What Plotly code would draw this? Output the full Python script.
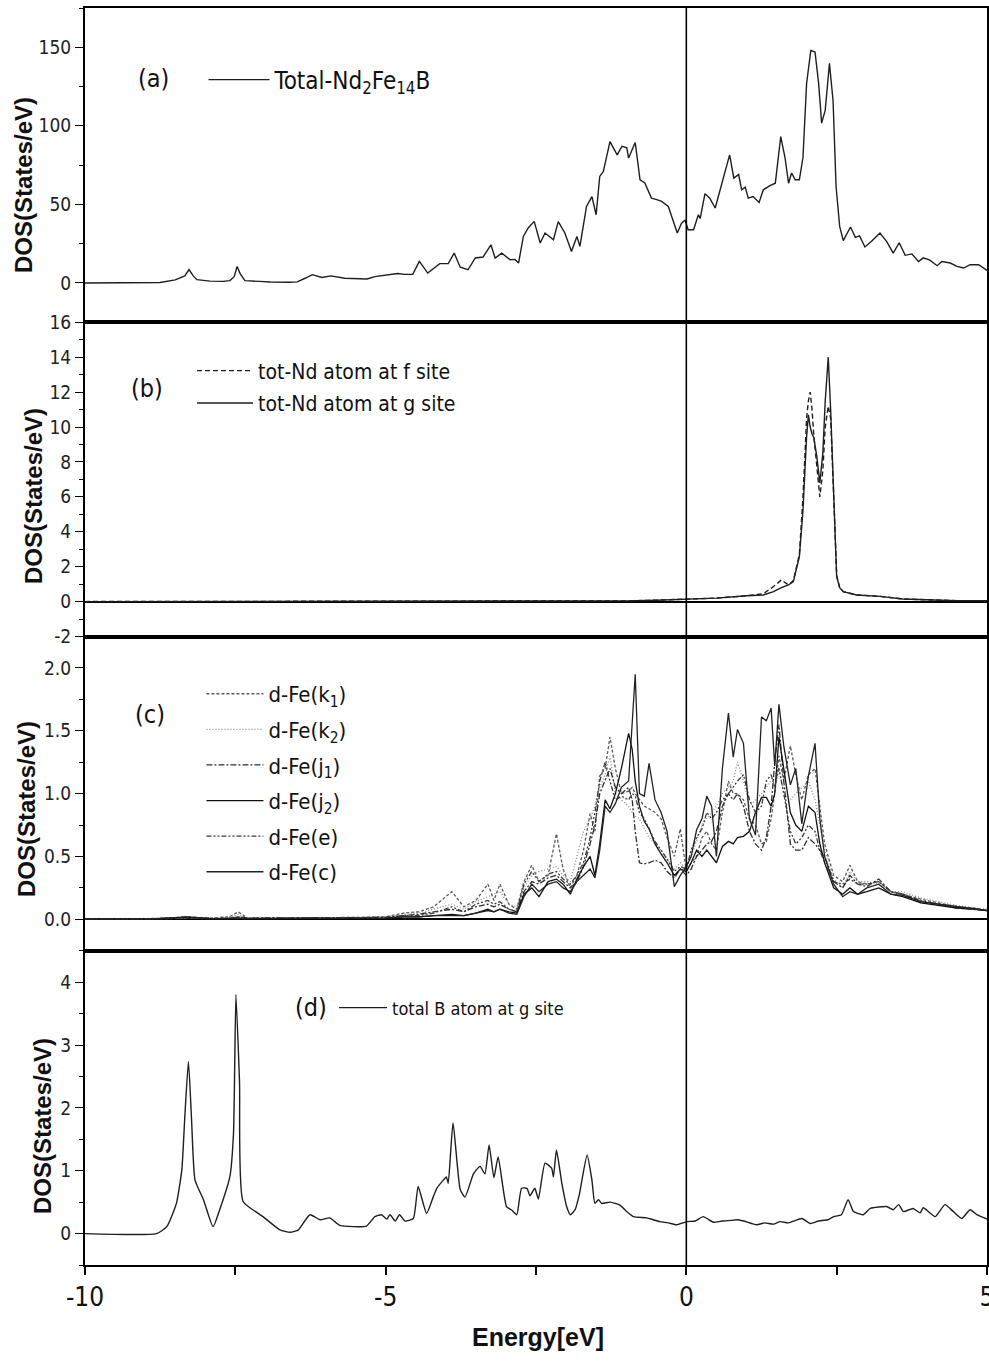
import plotly.graph_objects as go
from plotly.subplots import make_subplots

# ---------------- data ----------------
# (a) total DOS of Nd2Fe14B
energy_total = [-10.0, -8.9, -8.75, -8.5, -8.34, -8.27, -8.2, -8.14, -7.92, -7.7,
                -7.59, -7.52, -7.47, -7.42, -7.34, -7.1, -6.92, -6.6, -6.47, -6.34,
                -6.22, -6.06, -5.91, -5.68, -5.43, -5.31, -5.18, -4.96, -4.8, -4.68,
                -4.55, -4.44, -4.3, -4.1, -3.96, -3.86, -3.76, -3.63, -3.51, -3.38,
                -3.25, -3.18, -3.07, -2.93, -2.85, -2.79, -2.71, -2.63, -2.53, -2.43,
                -2.35, -2.21, -2.13, -2.02, -1.91, -1.82, -1.77, -1.66, -1.57, -1.5,
                -1.44, -1.38, -1.27, -1.15, -1.07, -0.99, -0.96, -0.85, -0.77, -0.69,
                -0.58, -0.49, -0.41, -0.3, -0.22, -0.15, -0.08, -0.02, 0.03, 0.12,
                0.2, 0.23, 0.31, 0.39, 0.48, 0.59, 0.72, 0.79, 0.87, 0.92,
                0.98, 1.03, 1.11, 1.21, 1.28, 1.39, 1.48, 1.57, 1.64, 1.7,
                1.75, 1.81, 1.88, 1.94, 2.0, 2.07, 2.14, 2.2, 2.25, 2.31,
                2.38, 2.44, 2.49, 2.55, 2.61, 2.73, 2.81, 2.88, 2.97, 3.08,
                3.22, 3.33, 3.44, 3.54, 3.64, 3.75, 3.86, 3.94, 4.05, 4.17,
                4.25, 4.39, 4.5, 4.61, 4.72, 4.86, 5.0]
dos_total = [0, 0, 0.3, 2, 4.5, 8.5, 4.5, 2.1, 1.2, 1,
             1.5, 4, 10.5, 6, 1.5, 1, 0.6, 0.5, 0.7, 3,
             5.3, 3.5, 4.5, 3, 2.8, 2.5, 4, 5, 6, 5.5,
             5.5, 13.7, 6.3, 12.3, 12.3, 19, 10, 8.4, 15.9, 16.5,
             24.3, 15.9, 19, 14.8, 15, 12.7, 29.6, 35, 39.2, 25.4,
             31.8, 27.5, 39, 31.8, 20.1, 29.6, 23.3, 48.7, 55, 43.4,
             67.8, 71, 90, 81.5, 87, 86, 79.5, 89.4, 65.7, 63.6,
             54, 53, 51.9, 48.7, 40.2, 31.8, 38, 40, 33.9, 33.9,
             43.4, 41, 56.8, 54, 47.7, 63.6, 81.5, 66.7, 69, 59.3,
             61, 54, 55, 51.2, 59.3, 62, 63.5, 93.2, 80, 63.5,
             70, 65.7, 65.7, 80, 127, 148, 147, 127, 101.7, 110,
             139.8, 116, 61.4, 36, 27, 35.6, 29, 30, 22.9, 26.5,
             31.8, 26.5, 19, 25.6, 17.6, 18.5, 13.7, 16, 14.5, 11,
             13.7, 12.7, 10.6, 9.5, 11.6, 11.6, 8]

# (b) Nd atoms at f and g sites
energy_nd = [-10, -2, -1, -0.5, 0, 0.5, 1.0, 1.28, 1.45, 1.58,
             1.70, 1.78, 1.88, 1.94, 2.00, 2.03, 2.06, 2.09, 2.12, 2.17,
             2.22, 2.27, 2.31, 2.36, 2.40, 2.44, 2.50, 2.55, 2.61, 2.83,
             3.22, 3.6, 4.0, 4.5, 5.0]
dos_nd_f = [0, 0.0, 0.04, 0.08, 0.14, 0.2, 0.33, 0.45, 0.86, 1.24,
            0.95, 1.2, 2.7, 6.0, 10.5, 11.5, 12.0, 11.0, 9.5, 7.8,
            6.0, 7.5, 10.0, 11.2, 10.5, 7.0, 1.5, 0.8, 0.57, 0.38,
            0.3, 0.15, 0.1, 0.05, 0.05]
dos_nd_g = [0, 0.0, 0.04, 0.08, 0.14, 0.2, 0.33, 0.38, 0.57, 0.8,
            0.95, 1.15, 2.58, 5.25, 9.45, 10.7, 10.0, 9.6, 9.4, 8.3,
            6.8, 8.5, 11.5, 14.0, 11.0, 7.2, 1.43, 0.8, 0.57, 0.38,
            0.3, 0.15, 0.1, 0.05, 0.05]

# (c) d-states of Fe at the six sites
energy_fe = [-10.0, -8.8, -8.3, -7.9, -7.6, -7.45, -7.3, -6.6, -6.0, -5.5, -5.0, -4.7, -4.45, -4.2,
             -3.9, -3.7, -3.5, -3.3, -3.2, -3.1, -2.95, -2.82, -2.7, -2.57,
             -2.45, -2.3, -2.16, -2.05, -1.93, -1.82, -1.71, -1.6, -1.52, -1.44,
             -1.35, -1.27, -1.18, -1.08, -0.96, -0.9, -0.85, -0.78, -0.7, -0.62,
             -0.52, -0.42, -0.32, -0.2, -0.1, 0.0, 0.08, 0.17, 0.26, 0.34,
             0.42, 0.5, 0.6, 0.7, 0.78, 0.85, 0.95, 1.05, 1.15, 1.25,
             1.33, 1.41, 1.47, 1.54, 1.62, 1.73, 1.82, 1.92, 2.03, 2.14,
             2.22, 2.3, 2.45, 2.6, 2.72, 2.85, 3.0, 3.2, 3.4, 3.6,
             3.9, 4.2, 4.5, 4.8, 5.0]
dos_fe_k1 = [0, 0.005, 0.01, 0.01, 0.02, 0.06, 0.01, 0.01, 0.01, 0.015, 0.02, 0.05, 0.06, 0.1,
             0.22, 0.1, 0.15, 0.28, 0.15, 0.28, 0.12, 0.08, 0.3, 0.43,
             0.3, 0.35, 0.68, 0.4, 0.25, 0.35, 0.55, 0.84, 0.7, 1.14,
             1.2, 1.45, 1.2, 1.0, 1.02, 1.05, 1.0, 0.95, 0.9, 0.88,
             0.85, 0.8, 0.65, 0.5, 0.72, 0.38, 0.45, 0.5, 0.65, 0.7,
             0.6, 0.55, 0.85, 1.1, 1.0, 1.0, 0.95, 0.8, 0.75, 0.6,
             0.62, 0.8, 1.0, 1.3, 1.1, 1.38, 1.15, 0.95, 1.15, 1.2,
             0.9, 0.6, 0.35, 0.3, 0.43, 0.3, 0.28, 0.3, 0.22, 0.2,
             0.16, 0.13, 0.1, 0.09, 0.07]
dos_fe_k2 = [0, 0.005, 0.01, 0.01, 0.015, 0.04, 0.01, 0.01, 0.01, 0.015, 0.02, 0.04, 0.05, 0.08,
             0.12, 0.08, 0.14, 0.18, 0.2, 0.22, 0.12, 0.1, 0.25, 0.35,
             0.38, 0.4, 0.42, 0.35, 0.3, 0.5, 0.7, 0.8, 0.9, 1.05,
             1.15, 1.3, 1.0, 0.95, 0.9, 0.85, 0.82, 0.8, 0.72, 0.65,
             0.6, 0.55, 0.48, 0.4, 0.45, 0.4, 0.5, 0.62, 0.75, 0.8,
             0.85, 0.9, 1.0, 1.05, 1.1, 1.25, 1.1, 0.9, 0.95, 1.0,
             1.05, 1.1, 1.15, 1.2, 1.0, 0.95, 1.0, 1.05, 1.1, 0.95,
             0.75, 0.55, 0.32, 0.25, 0.38, 0.3, 0.3, 0.28, 0.22, 0.22,
             0.17, 0.14, 0.11, 0.09, 0.08]
dos_fe_j1 = [0, 0.005, 0.02, 0.005, 0.01, 0.02, 0.01, 0.01, 0.01, 0.01, 0.015, 0.03, 0.04, 0.06,
             0.08, 0.06, 0.1, 0.12, 0.1, 0.12, 0.08, 0.06, 0.22, 0.3,
             0.28, 0.33, 0.35, 0.3, 0.25, 0.3, 0.42, 0.6, 0.75, 1.0,
             1.1, 1.2, 1.05, 1.0, 1.05, 0.95, 0.7, 0.45, 0.44, 0.45,
             0.47, 0.45, 0.38, 0.33, 0.4, 0.35, 0.4, 0.5, 0.55, 0.6,
             0.62, 0.7, 0.9, 1.0, 0.95, 1.0, 0.9, 0.7, 0.6, 0.55,
             0.65, 0.9, 1.25, 1.55, 1.1, 0.6, 0.55, 0.55, 0.65, 0.6,
             0.55, 0.5, 0.3, 0.25, 0.35, 0.28, 0.26, 0.32, 0.22, 0.2,
             0.14, 0.12, 0.09, 0.08, 0.07]
dos_fe_j2 = [0, 0.005, 0.015, 0.005, 0.005, 0.01, 0.005, 0.005, 0.01, 0.01, 0.01, 0.02, 0.02, 0.03,
             0.04, 0.03, 0.05, 0.08, 0.06, 0.08, 0.06, 0.05, 0.2, 0.25,
             0.18, 0.3, 0.32, 0.28, 0.2, 0.32, 0.42, 0.5, 0.35, 0.6,
             0.95, 0.88, 1.0, 1.2, 1.48, 1.35, 1.1, 0.9, 0.78, 0.72,
             0.6, 0.52, 0.45, 0.35, 0.4, 0.38, 0.45, 0.55, 0.5, 0.55,
             0.5, 0.45, 0.58, 0.62, 0.6, 0.65, 0.66, 0.7, 0.85, 0.97,
             0.97, 0.9, 1.0, 1.45, 1.2, 0.85, 0.75, 0.7, 0.9, 0.85,
             0.6, 0.45, 0.25, 0.2, 0.25, 0.2, 0.22, 0.25, 0.2, 0.18,
             0.13, 0.11, 0.09, 0.08, 0.07]
dos_fe_e = [0, 0.005, 0.01, 0.005, 0.01, 0.02, 0.01, 0.01, 0.01, 0.01, 0.015, 0.03, 0.03, 0.05,
            0.1, 0.06, 0.12, 0.15, 0.12, 0.14, 0.08, 0.06, 0.28, 0.38,
            0.3, 0.36, 0.38, 0.32, 0.28, 0.35, 0.45, 0.65, 0.85, 1.1,
            1.25, 1.1, 0.95, 0.98, 0.95, 1.0, 0.98, 0.85, 0.8, 0.72,
            0.62, 0.55, 0.48, 0.38, 0.42, 0.4, 0.55, 0.65, 0.72, 0.85,
            0.8, 0.85, 0.95, 1.0, 1.05, 1.1, 1.15, 0.95, 0.85, 0.9,
            1.1, 1.15, 1.05, 1.2, 1.0, 0.7, 0.6, 0.65, 0.75, 0.7,
            0.55, 0.45, 0.3, 0.28, 0.32, 0.28, 0.28, 0.3, 0.22, 0.2,
            0.15, 0.12, 0.1, 0.08, 0.07]
dos_fe_c = [0, 0.005, 0.02, 0.005, 0.005, 0.01, 0.005, 0.005, 0.005, 0.01, 0.01, 0.02, 0.02, 0.03,
            0.03, 0.03, 0.05, 0.07, 0.06, 0.08, 0.05, 0.04, 0.18, 0.28,
            0.22, 0.28, 0.3, 0.25, 0.22, 0.3, 0.35, 0.4, 0.33, 0.55,
            0.9, 0.85, 0.92, 1.05, 1.1, 1.6, 1.95, 1.0, 0.98, 1.24,
            0.95, 0.85, 0.7, 0.26, 0.35, 0.42, 0.5, 0.71, 0.8, 0.98,
            0.9, 0.5, 1.2, 1.64, 1.29, 1.51, 1.40, 0.8, 0.67, 1.61,
            1.58, 1.68, 1.22, 1.71, 1.38, 1.07, 1.2, 0.76, 1.14, 1.40,
            0.8, 0.5, 0.28, 0.18, 0.22, 0.2, 0.25, 0.28, 0.2, 0.19,
            0.14, 0.12, 0.1, 0.08, 0.07]

# (d) B atom at g site
energy_b = [-10.0, -8.81, -8.64, -8.48, -8.39, -8.34, -8.28, -8.23, -8.17, -8.03,
            -7.87, -7.76, -7.59, -7.53, -7.49, -7.43, -7.37, -7.04, -6.76, -6.59,
            -6.45, -6.26, -6.09, -5.93, -5.76, -5.32, -5.18, -5.07, -4.98, -4.93,
            -4.84, -4.77, -4.68, -4.54, -4.46, -4.32, -4.21, -4.15, -4.04, -3.99,
            -3.96, -3.88, -3.76, -3.68, -3.54, -3.43, -3.35, -3.28, -3.2, -3.13,
            -2.99, -2.9, -2.82, -2.74, -2.65, -2.6, -2.52, -2.46, -2.35, -2.24,
            -2.21, -2.16, -2.07, -1.99, -1.93, -1.85, -1.78, -1.65, -1.57, -1.52,
            -1.46, -1.41, -1.27, -1.1, -0.99, -0.88, -0.66, -0.55, -0.44, -0.3,
            -0.16, 0.01, 0.15, 0.28, 0.45, 0.6, 0.75, 0.84, 0.95, 1.17,
            1.3, 1.45, 1.56, 1.7, 1.92, 2.06, 2.2, 2.35, 2.45, 2.58,
            2.69, 2.78, 2.94, 3.06, 3.33, 3.44, 3.53, 3.61, 3.77, 3.89,
            3.94, 4.14, 4.3, 4.44, 4.58, 4.72, 4.83, 5.0]
dos_b = [0, 0, 0.11, 0.48, 1.01, 1.86, 2.74, 1.86, 0.85, 0.54,
         0.11, 0.38, 0.91, 1.6, 3.8, 2.4, 0.51, 0.27, 0.06, 0.02,
         0.06, 0.3, 0.22, 0.25, 0.13, 0.12, 0.27, 0.3, 0.23, 0.3,
         0.2, 0.3, 0.2, 0.24, 0.75, 0.32, 0.58, 0.72, 0.85, 0.9,
         0.8, 1.76, 0.7, 0.58, 0.95, 1.07, 0.95, 1.41, 0.89, 1.22,
         0.43, 0.37, 0.3, 0.72, 0.72, 0.6, 0.72, 0.55, 1.12, 1.04,
         0.9, 1.33, 0.8, 0.43, 0.3, 0.38, 0.62, 1.25, 0.85, 0.48,
         0.54, 0.48, 0.5, 0.45, 0.35, 0.27, 0.25, 0.22, 0.19, 0.17,
         0.14, 0.19, 0.2, 0.27, 0.18, 0.2, 0.21, 0.22, 0.2, 0.14,
         0.17, 0.15, 0.19, 0.17, 0.24, 0.16, 0.2, 0.22, 0.27, 0.3,
         0.54, 0.35, 0.3, 0.4, 0.43, 0.38, 0.46, 0.35, 0.4, 0.33,
         0.41, 0.27, 0.46, 0.35, 0.24, 0.38, 0.3, 0.23]

FERMI_LEVEL = 0.0

# tick labels
x_tickvals = [-10, -5, 0, 5]
x_ticktext = ["-10", "-5", "0", "5"]
ya_tickvals = [0, 50, 100, 150]
ya_ticktext = ["0", "50", "100", "150"]
yb_tickvals = [-2, 0, 2, 4, 6, 8, 10, 12, 14, 16]
yb_ticktext = ["-2", "0", "2", "4", "6", "8", "10", "12", "14", "16"]
yc_tickvals = [0, 0.5, 1.0, 1.5, 2.0]
yc_ticktext = ["0.0", "0.5", "1.0", "1.5", "2.0"]
yd_tickvals = [0, 1, 2, 3, 4]
yd_ticktext = ["0", "1", "2", "3", "4"]

# ---------------- figure ----------------
NARROW = "Liberation Sans Narrow, Arial Narrow, DejaVu Sans Condensed, sans-serif"
BOLD = "Liberation Sans, Arial, sans-serif"
INK = "#1e1e1e"

fig = make_subplots(rows=4, cols=1, shared_xaxes=True, vertical_spacing=0)

fig.add_trace(go.Scatter(x=energy_total, y=dos_total, mode="lines",
                         name="Total-Nd<sub>2</sub>Fe<sub>14</sub>B",
                         line=dict(color=INK, width=1.4), legend="legend"), row=1, col=1)

fig.add_trace(go.Scatter(x=energy_nd, y=dos_nd_f, mode="lines", name="tot-Nd atom at f site",
                         line=dict(color=INK, width=1.4, dash="5px,3px"), legend="legend2",
                         legendgroup="f"), row=2, col=1)
fig.add_trace(go.Scatter(x=energy_nd, y=dos_nd_g, mode="lines", name="tot-Nd atom at g site",
                         line=dict(color=INK, width=1.4), legend="legend2",
                         legendgroup="g"), row=2, col=1)

fe_series = [
    ("d-Fe(k<sub>1</sub>)", dos_fe_k1, "#5a5a5a", "3px,2px"),
    ("d-Fe(k<sub>2</sub>)", dos_fe_k2, "#8a8a8a", "1px,2px"),
    ("d-Fe(j<sub>1</sub>)", dos_fe_j1, "#2e2e2e", "6px,2px,2px,2px"),
    ("d-Fe(j<sub>2</sub>)", dos_fe_j2, "#111111", "solid"),
    ("d-Fe(e)", dos_fe_e, "#3a3a3a", "5px,2px,2px,2px,2px,2px"),
    ("d-Fe(c)", dos_fe_c, "#222222", "solid"),
]
for i, (nm, vals, col, dash) in enumerate(fe_series):
    fig.add_trace(go.Scatter(x=energy_fe, y=vals, mode="lines", name=nm,
                             line=dict(color=col, width=1.3, dash=dash),
                             legend="legend3", legendgroup="fe%d" % i), row=3, col=1)

fig.add_trace(go.Scatter(x=energy_b, y=dos_b, mode="lines", name="total B atom at g site",
                         line=dict(color=INK, width=1.4, shape="spline", smoothing=0.5),
                         legend="legend4"), row=4, col=1)

# axes
for r in range(1, 5):
    fig.update_xaxes(row=r, col=1, range=[-10, 5], showline=True, mirror=True,
                     linecolor="black", linewidth=2, showgrid=False, zeroline=False,
                     automargin=False,
                     ticks="outside" if r == 4 else "", showticklabels=(r == 4))
fig.update_xaxes(row=4, col=1, tickmode="array", tickvals=x_tickvals, ticktext=x_ticktext,
                 ticklen=8, tickwidth=1.5, tickcolor="black", ticklabeloverflow="allow",
                 tickfont=dict(family=NARROW, size=26, color="#111"),
                 minor=dict(tickmode="linear", tick0=0, dtick=2.5, ticks="outside",
                            ticklen=8, tickwidth=1.5, tickcolor="black"))

yspecs = [
    (1, [-25, 175], ya_tickvals, ya_ticktext, 25, False),
    (2, [-2, 16], yb_tickvals, yb_ticktext, 1, True),
    (3, [-0.25, 2.25], yc_tickvals, yc_ticktext, 0.25, True),
    (4, [-0.5, 4.5], yd_tickvals, yd_ticktext, 0.5, False),
]
for r, rng, tv, tt, mdt, zl in yspecs:
    fig.update_yaxes(row=r, col=1, range=rng, showline=True, mirror=True, linecolor="black",
                     linewidth=2, showgrid=False, zeroline=zl, zerolinecolor="black",
                     zerolinewidth=1.5, ticks="outside", ticklen=8, tickwidth=1.3,
                     tickcolor="black", tickmode="array", tickvals=tv, ticktext=tt,
                     automargin=False,
                     tickfont=dict(family=NARROW, size=19, color="#222"),
                     minor=dict(tickmode="linear", tick0=0, dtick=mdt, ticks="outside",
                                ticklen=4, tickwidth=1.2, tickcolor="black"))

fig.add_vline(x=FERMI_LEVEL, line=dict(color="black", width=1.6), row="all", col=1)

legend_base = dict(bgcolor="rgba(0,0,0,0)", borderwidth=0, xanchor="left", yanchor="middle")
fig.update_layout(
    width=989, height=1362,
    margin=dict(l=85, r=2, t=8, b=97, autoexpand=False),
    paper_bgcolor="white", plot_bgcolor="white",
    showlegend=True,
    legend=dict(x=0.1314, y=0.9427, itemwidth=61, traceorder="normal",
                font=dict(family=NARROW, size=24, color="#111"), **legend_base),
    legend2=dict(x=0.1187, y=0.6985, itemwidth=56, traceorder="grouped", tracegroupgap=2,
                 font=dict(family=NARROW, size=21, color="#111"), **legend_base),
    legend3=dict(x=0.1291, y=0.3835, itemwidth=57, traceorder="grouped", tracegroupgap=4,
                 font=dict(family=NARROW, size=22, color="#111"), **legend_base),
    legend4=dict(x=0.2761, y=0.2045, itemwidth=48, traceorder="normal",
                 font=dict(family=NARROW, size=18, color="#111"), **legend_base),
)

# panel labels
panel_labels = [("(a)", 153, 79), ("(b)", 147, 389), ("(c)", 150, 714), ("(d)", 311, 1007)]
L, R, T, B = 85, 987, 8, 1265
for txt, px, py in panel_labels:
    fig.add_annotation(text=txt, xref="paper", yref="paper",
                       x=(px - L) / (R - L), y=(B - py) / (B - T),
                       showarrow=False, xanchor="center", yanchor="middle",
                       font=dict(family=NARROW, size=25, color="#111"))

# y-axis titles
ytitle_pos = [(23, 185), (34, 496), (26, 809), (42, 1126)]
for px, py in ytitle_pos:
    fig.add_annotation(text="<b>DOS(States/eV)</b>", xref="paper", yref="paper",
                       x=(px - L) / (R - L), y=(B - py) / (B - T), textangle=-90,
                       showarrow=False, xanchor="center", yanchor="middle",
                       font=dict(family=BOLD, size=24, color="#111"))

fig.add_annotation(text="<b>Energy[eV]</b>", xref="paper", yref="paper",
                   x=(538 - L) / (R - L), y=(B - 1337) / (B - T),
                   showarrow=False, xanchor="center", yanchor="middle",
                   font=dict(family=BOLD, size=25, color="#111"))

fig.write_html("out.html", config={"displayModeBar": False},
               post_script="document.body.style.margin='0';")
